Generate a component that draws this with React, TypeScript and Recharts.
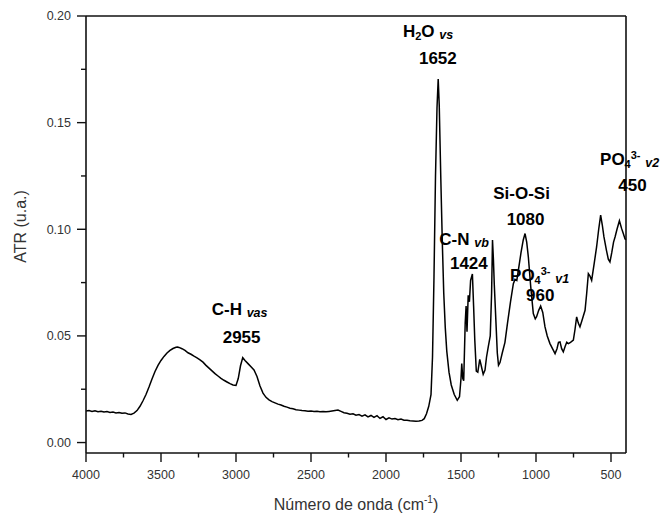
import React from 'react';
import { LineChart, Line, XAxis, YAxis, ReferenceLine, ReferenceDot } from 'recharts';

// ---- Data ----
const wavenumbers = [
  4000, 3980, 3960, 3940, 3920, 3900, 3880, 3860, 3840, 3820, 3800, 3780, 3760, 3740, 3720, 3700,
  3680, 3660, 3640, 3620, 3600, 3580, 3560, 3540, 3520, 3500, 3480, 3460, 3440, 3420, 3400, 3390,
  3380, 3360, 3340, 3320, 3300, 3280, 3260, 3240, 3220, 3200, 3180, 3160, 3140, 3120, 3100, 3080,
  3060, 3040, 3020, 3000, 2985, 2970, 2955, 2940, 2920, 2900, 2880, 2860, 2840, 2820, 2800, 2780,
  2760, 2740, 2720, 2700, 2680, 2660, 2640, 2620, 2600, 2580, 2560, 2540, 2520, 2500, 2480, 2460,
  2440, 2420, 2400, 2380, 2360, 2340, 2320, 2300, 2280, 2260, 2240, 2220, 2200, 2180, 2160, 2140,
  2120, 2100, 2080, 2060, 2040, 2020, 2000, 1980, 1960, 1940, 1920, 1900, 1880, 1860, 1840, 1820,
  1800, 1780, 1760, 1745, 1730, 1715, 1700, 1690, 1680, 1670, 1660, 1652, 1645, 1635, 1625, 1615,
  1605, 1595, 1580, 1565, 1545, 1525, 1510, 1500, 1495, 1488, 1482, 1472, 1466, 1460, 1452, 1444,
  1436, 1424, 1416, 1408, 1398, 1388, 1375, 1365, 1352, 1340, 1330, 1318, 1305, 1296, 1290, 1284,
  1278, 1268, 1258, 1250, 1240, 1225, 1207, 1190, 1170, 1151, 1140, 1128, 1115, 1100, 1085, 1073,
  1062, 1051, 1035, 1018, 1005, 996, 982, 969, 955, 940, 925, 907, 890, 873, 860, 850,
  840, 829, 818, 806, 795, 784, 770, 751, 740, 729, 718, 707, 690, 673, 662, 651,
  640, 629, 612, 596, 582, 569, 558, 547, 530, 518, 507, 495, 483, 473, 460, 444,
  436, 429, 418, 407, 402,
];

const atrValues = [
  0.0148, 0.0150, 0.0146, 0.0149, 0.0145, 0.0147, 0.0143, 0.0145, 0.0141, 0.0143, 0.0139, 0.0141, 0.0137, 0.0139, 0.0134, 0.0132,
  0.0138, 0.0150, 0.0170, 0.0196, 0.0225, 0.0260, 0.0298, 0.0333, 0.0362, 0.0385, 0.0404, 0.0420, 0.0432, 0.0441, 0.0447, 0.0448,
  0.0446, 0.0440, 0.0432, 0.0421, 0.0414, 0.0405, 0.0397, 0.0388, 0.0377, 0.0362, 0.0349, 0.0336, 0.0323, 0.0312, 0.0301, 0.0292,
  0.0284, 0.0276, 0.0270, 0.0268, 0.0300, 0.0360, 0.0398, 0.0385, 0.0370, 0.0355, 0.0340, 0.0310, 0.0265, 0.0232, 0.0212, 0.0200,
  0.0192, 0.0186, 0.0180, 0.0176, 0.0170, 0.0166, 0.0161, 0.0158, 0.0154, 0.0152, 0.0150, 0.0149, 0.0147, 0.0148, 0.0146, 0.0147,
  0.0145, 0.0146, 0.0144, 0.0146, 0.0148, 0.0150, 0.0152, 0.0146, 0.0140, 0.0137, 0.0133, 0.0135, 0.0128, 0.0131, 0.0124, 0.0130,
  0.0120, 0.0127, 0.0118, 0.0126, 0.0113, 0.0121, 0.0108, 0.0116, 0.0110, 0.0113, 0.0107, 0.0110, 0.0105, 0.0104, 0.0102, 0.0101,
  0.0100, 0.0101, 0.0104, 0.0112, 0.0135, 0.0170, 0.0225, 0.0400, 0.0780, 0.1250, 0.1570, 0.1705, 0.1580, 0.1250, 0.0950, 0.0700,
  0.0540, 0.0430, 0.0330, 0.0270, 0.0225, 0.0198, 0.0215, 0.0300, 0.0370, 0.0300, 0.0290, 0.0560, 0.0640, 0.0520, 0.0690, 0.0660,
  0.0760, 0.0790, 0.0640, 0.0480, 0.0335, 0.0330, 0.0390, 0.0360, 0.0320, 0.0340, 0.0400, 0.0450, 0.0500, 0.0700, 0.0950, 0.0860,
  0.0740, 0.0580, 0.0420, 0.0362, 0.0375, 0.0420, 0.0470, 0.0560, 0.0660, 0.0745, 0.0765, 0.0760, 0.0820, 0.0890, 0.0950, 0.0980,
  0.0940, 0.0870, 0.0730, 0.0605, 0.0580, 0.0590, 0.0620, 0.0640, 0.0610, 0.0542, 0.0500, 0.0464, 0.0440, 0.0417, 0.0440, 0.0470,
  0.0472, 0.0440, 0.0425, 0.0450, 0.0470, 0.0464, 0.0470, 0.0480, 0.0530, 0.0589, 0.0560, 0.0542, 0.0580, 0.0620, 0.0700, 0.0792,
  0.0780, 0.0760, 0.0840, 0.0917, 0.1000, 0.1066, 0.1020, 0.0964, 0.0900, 0.0860, 0.0847, 0.0890, 0.0940, 0.0964, 0.1000, 0.1040,
  0.1020, 0.1003, 0.0980, 0.0956, 0.0950,
];

const xTicks = [4000, 3750, 3500, 3250, 3000, 2750, 2500, 2250, 2000, 1750, 1500, 1250, 1000, 750, 500];
const yTicks = [0, 0.025, 0.05, 0.075, 0.1, 0.125, 0.15, 0.175, 0.2];

// Band annotations: anchor (wavenumber, ATR) of first line, second line = band position
const bandNames = ['H2O', 'C-H', 'C-N', 'Si-O-Si', 'PO4 v1', 'PO4 v2'];
const bandLabelX = [1887, 3162, 1645, 1285, 1173, 573];
const bandLabelY = [0.19, 0.0597, 0.0925, 0.1144, 0.0757, 0.13];
const bandNumbers = ['1652', '2955', '1424', '1080', '960', '450'];

type Part = { t: string; kind?: 'sub' | 'sup' | 'it' };
const bandTitles: Part[][] = [
  [{ t: 'H' }, { t: '2', kind: 'sub' }, { t: 'O' }, { t: ' ' }, { t: 'vs', kind: 'it' }],
  [{ t: 'C-H' }, { t: ' ' }, { t: 'vas', kind: 'it' }],
  [{ t: 'C-N' }, { t: ' ' }, { t: 'vb', kind: 'it' }],
  [{ t: 'Si-O-Si' }],
  [{ t: 'PO' }, { t: '4', kind: 'sub' }, { t: '3-', kind: 'sup' }, { t: ' ' }, { t: 'v1', kind: 'it' }],
  [{ t: 'PO' }, { t: '4', kind: 'sub' }, { t: '3-', kind: 'sup' }, { t: ' ' }, { t: 'v2', kind: 'it' }],
];
const secondLineDx = [16, 11, 10.7, 13.4, 16, 18.3];
const secondLineDy = [27, 27.3, 23.3, 26.7, 20, 25.7];

const data = wavenumbers.map((w, i) => ({ w, v: atrValues[i] }));

// chart geometry
const CHART_W = 661;
const CHART_H = 516;
const MARGIN = { top: 16, right: 35, bottom: 23, left: 0 };
const Y_AXIS_W = 86;
const X_AXIS_H = 40;
const X_DOMAIN: [number, number] = [400, 4000];
const Y_DOMAIN: [number, number] = [-0.0049, 0.2];
const PX_PER_X = (CHART_W - MARGIN.left - MARGIN.right - Y_AXIS_W) / (X_DOMAIN[1] - X_DOMAIN[0]);
const PX_PER_Y = (CHART_H - MARGIN.top - MARGIN.bottom - X_AXIS_H) / (Y_DOMAIN[1] - Y_DOMAIN[0]);

const FONT = '"Liberation Sans", Arial, Helvetica, sans-serif';
const AXIS_COLOR = '#111111';
const LABEL_COLOR = '#333333';

const partSize = (k?: string) => (k === 'sub' || k === 'sup' ? 11 : k === 'it' ? 12.5 : 17);
const partShift = (k?: string) => (k === 'sub' ? 3 : k === 'sup' ? -6 : k === 'it' ? 2 : 0);

function renderBand(idx: number) {
  return (props: any) => {
    const vb = props.viewBox || {};
    const ax = Number(vb.x ?? 0) + Number(vb.width ?? 0) / 2;
    const ay = Number(vb.y ?? 0) + Number(vb.height ?? 0) / 2;
    let prev = 0;
    const parts = bandTitles[idx];
    return (
      <g>
        <text x={ax} y={ay} fontFamily={FONT} fontWeight="bold" fill="#000" textAnchor="start">
          {parts.map((p, j) => {
            const s = partShift(p.kind);
            const dy = s - prev;
            prev = s;
            return (
              <tspan
                key={j}
                dy={dy}
                fontSize={partSize(p.kind)}
                fontStyle={p.kind === 'it' ? 'italic' : 'normal'}
                style={{ whiteSpace: 'pre' }}
              >
                {p.t}
              </tspan>
            );
          })}
        </text>
        <text
          x={ax + secondLineDx[idx]}
          y={ay + secondLineDy[idx]}
          fontFamily={FONT}
          fontWeight="bold"
          fontSize={17}
          fill="#000"
        >
          {bandNumbers[idx]}
        </text>
      </g>
    );
  };
}

const isXMajor = (v: number) => v % 500 === 0;
const isYMajor = (v: number) => Math.abs(Math.round(v * 20) - v * 20) < 1e-6;

const XTick = (props: any) => {
  const x = Number(props.x);
  const y = Number(props.y);
  const val = Number(props.payload?.value);
  if (!isXMajor(val)) return <g />;
  return (
    <text x={x} y={y + 26.3} textAnchor="middle" fontFamily={FONT} fontSize={12.5} fill={LABEL_COLOR}>
      {String(val)}
    </text>
  );
};

const YTick = (props: any) => {
  const x = Number(props.x);
  const y = Number(props.y);
  const v = Number(props.payload?.value);
  if (!isYMajor(v)) return <g />;
  return (
    <text x={x - 15} y={y + 4.4} textAnchor="end" fontFamily={FONT} fontSize={12.5} fill={LABEL_COLOR}>
      {v.toFixed(2)}
    </text>
  );
};

const XTitle = (props: any) => {
  const vb = props.viewBox || {};
  const cx = vb.x + vb.width / 2;
  return (
    <text x={cx} y={vb.y + 57.3} textAnchor="middle" fontFamily={FONT} fontSize={16} fill={LABEL_COLOR}>
      <tspan>Número de onda (cm</tspan>
      <tspan fontSize={10} dy={-7}>-1</tspan>
      <tspan dy={7}>)</tspan>
    </text>
  );
};

const YTitle = (props: any) => {
  const vb = props.viewBox || {};
  const cy = vb.y + vb.height / 2 - 8;
  const cx = vb.x + 26;
  return (
    <text
      x={cx}
      y={cy}
      transform={`rotate(-90 ${cx} ${cy})`}
      textAnchor="middle"
      fontFamily={FONT}
      fontSize={16}
      fill={LABEL_COLOR}
    >
      ATR (u.a.)
    </text>
  );
};

export default function App() {
  return (
    <div style={{ position: 'absolute', left: 0, top: 0 }}>
      <LineChart width={CHART_W} height={CHART_H} data={data} margin={MARGIN}>
        <XAxis
          dataKey="w"
          type="number"
          domain={X_DOMAIN}
          reversed
          ticks={xTicks}
          interval={0}
          height={X_AXIS_H}
          tickSize={0}
          tickMargin={0}
          tickLine={false}
          tick={(p: any) => <XTick {...p} />}
          axisLine={{ stroke: AXIS_COLOR, strokeWidth: 1.6 }}
          label={{ content: XTitle }}
        />
        <YAxis
          type="number"
          domain={Y_DOMAIN}
          ticks={yTicks}
          interval={0}
          width={Y_AXIS_W}
          tickSize={0}
          tickMargin={0}
          tickLine={false}
          tick={(p: any) => <YTick {...p} />}
          axisLine={{ stroke: AXIS_COLOR, strokeWidth: 1.6 }}
          label={{ content: YTitle }}
        />
        <ReferenceLine y={Y_DOMAIN[1]} stroke={AXIS_COLOR} strokeWidth={1.6} />
        <ReferenceLine x={X_DOMAIN[0]} stroke={AXIS_COLOR} strokeWidth={1.6} />
        {/* outward tick marks on the bottom axis */}
        {xTicks.map((t) => (
          <ReferenceLine
            key={`xt-${t}`}
            ifOverflow="visible"
            segment={[
              { x: t, y: Y_DOMAIN[0] },
              { x: t, y: Y_DOMAIN[0] - (isXMajor(t) ? 9 : 4.5) / PX_PER_Y },
            ]}
            stroke={AXIS_COLOR}
            strokeWidth={1.4}
          />
        ))}
        {/* outward tick marks on the left axis */}
        {yTicks.map((t) => (
          <ReferenceLine
            key={`yt-${t}`}
            ifOverflow="visible"
            segment={[
              { x: X_DOMAIN[1], y: t },
              { x: X_DOMAIN[1] + (isYMajor(t) ? 9 : 5) / PX_PER_X, y: t },
            ]}
            stroke={AXIS_COLOR}
            strokeWidth={1.4}
          />
        ))}
        <Line
          type="linear"
          dataKey="v"
          stroke="#000"
          strokeWidth={1.5}
          dot={false}
          isAnimationActive={false}
        />
        {bandNames.map((name, i) => (
          <ReferenceDot
            key={name}
            x={bandLabelX[i]}
            y={bandLabelY[i]}
            r={0}
            fill="none"
            stroke="none"
            label={renderBand(i)}
          />
        ))}
      </LineChart>
    </div>
  );
}
